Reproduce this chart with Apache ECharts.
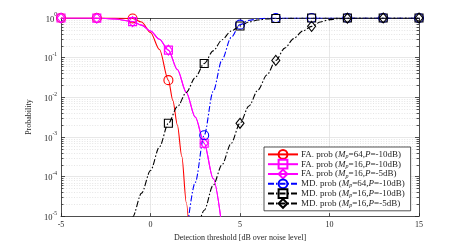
<!DOCTYPE html>
<html><head><meta charset="utf-8">
<script src="https://cdn.jsdelivr.net/npm/echarts@6/dist/echarts.min.js"></script>
<style>html,body{margin:0;padding:0;background:#fff}#c{width:463px;height:247px}</style>
</head><body><div id="c"></div>
<script>
// ---- data ----
const xTicks = [-5, 0, 5, 10, 15];
const yDecades = [1e-5, 1e-4, 1e-3, 1e-2, 1e-1, 1];

// FA. prob (Mp=64, P=-10dB)
const faX64 = [-5, -4, -3, -2, -1, -0.5, 0, 0.5, 1, 1.25, 1.5, 1.75, 2, 2.2];
const faP64 = [1, 1, 1, 0.995, 0.973, 0.79, 0.43, 0.16, 0.027, 0.0083, 0.002, 3.2e-4, 2.2e-5, 2e-6];
const faM64 = [-5, -3, -1, 1];

// FA. prob (Mp=16) (same curve for P=-10dB and P=-5dB)
const faX16 = [-5, -4, -3, -2, -1, -0.5, 0, 0.5, 1, 1.5, 2, 2.5, 3, 3.5, 4];
const faP16 = [1, 0.999, 0.993, 0.944, 0.81, 0.66, 0.47, 0.29, 0.155, 0.05, 0.0132, 0.00316, 6.9e-4, 8.9e-5, 5e-6];
const faM16 = [-5, -3, -1, 1, 3];

// MD. prob (Mp=64, P=-10dB)
const mdX64 = [2, 2.5, 3, 3.5, 4, 4.5, 5, 5.5, 6, 6.5, 7, 8, 9, 10, 11, 12, 13, 14, 15];
const mdP64 = [3.2e-6, 7.1e-5, 1.1e-3, 0.014, 0.089, 0.32, 0.68, 0.87, 0.955, 0.986, 0.998, 1, 1, 1, 1, 1, 1, 1, 1];
const mdM64 = [3, 5, 7, 9, 11, 13, 15];

// MD. prob (Mp=16, P=-10dB)
const mdX16a = [-1.25, -1, -0.5, 0, 0.5, 1, 1.5, 2, 2.5, 3, 3.5, 4, 4.5, 5, 5.5, 6, 6.5, 7, 8, 9, 10, 11, 12, 13, 14, 15];
const mdP16a = [5e-6, 9.5e-6, 3.8e-5, 1.41e-4, 5.6e-4, 2.2e-3, 5.75e-3, 0.0132, 0.0316, 0.0708, 0.148, 0.282, 0.468, 0.63, 0.794, 0.891, 0.946, 0.975, 0.995, 1, 1, 1, 1, 1, 1, 1];
const mdM16a = [1, 3, 5, 7, 9, 11, 13, 15];

// MD. prob (Mp=16, P=-5dB)
const mdX16b = [2.7, 3, 3.5, 4, 4.5, 5, 5.5, 6, 6.5, 7, 7.5, 8, 8.5, 9, 9.5, 10, 10.5, 11, 12, 13, 14, 15];
const mdP16b = [6.3e-6, 1.4e-5, 6e-5, 2e-4, 6.8e-4, 2.2e-3, 6e-3, 0.0151, 0.0363, 0.085, 0.174, 0.302, 0.468, 0.616, 0.794, 0.912, 0.966, 0.989, 0.999, 1, 1, 1];
const mdM16b = [5, 7, 9, 11, 13, 15];

const seriesNames = [
  'FA. prob (Mp=64,P=-10dB)', 'FA. prob (Mp=16,P=-10dB)', 'FA. prob (Mp=16,P=-5dB)',
  'MD. prob (Mp=64,P=-10dB)', 'MD. prob (Mp=16,P=-10dB)', 'MD. prob (Mp=16,P=-5dB)'
];
const legendRich = [
  ['FA', '64', '-10'], ['FA', '16', '-10'], ['FA', '16', '-5'],
  ['MD', '64', '-10'], ['MD', '16', '-10'], ['MD', '16', '-5']
];

// ---- chart ----
const TXT = '#262626';
const FONT = '"Liberation Serif", "DejaVu Serif", serif';

function build(xs, ps, marks) {
  return xs.map((x, i) => marks.indexOf(x) >= 0 ? [x, ps[i]] : { value: [x, ps[i]], symbol: 'none' });
}
function lineSeries(name, xs, ps, marks, color, symbol, size, dash) {
  return {
    name: name, type: 'line', xAxisIndex: 0, yAxisIndex: 0,
    data: build(xs, ps, marks),
    smooth: 0.3, smoothMonotone: 'x',
    symbol: symbol, symbolSize: size, showAllSymbol: true,
    lineStyle: { color: color, width: 1.1, type: dash },
    itemStyle: { color: 'rgba(255,255,255,0)', borderColor: color, borderWidth: 1.1 },
    emphasis: { disabled: true }, z: 3, clip: true
  };
}
const DASHDOT = [6, 2, 1.5, 2];

const minorVals = [];
for (let d = -5; d < 0; d++) for (let k = 2; k <= 9; k++) minorVals.push(k * Math.pow(10, d));

const decor = {
  type: 'custom', coordinateSystem: 'cartesian2d', xAxisIndex: 0, yAxisIndex: 0,
  data: [[0, 0.5]], silent: true, z: 1, clip: false,
  renderItem: function (params, api) {
    const cs = params.coordSys;
    const children = [];
    minorVals.forEach(v => {
      const y = Math.round(api.coord([0, v])[1]) + 0.5;
      children.push({ type: 'line', shape: { x1: cs.x, y1: y, x2: cs.x + cs.width, y2: y },
        style: { stroke: '#d4d4d4', lineWidth: 0.6, lineDash: [1, 1.6] } });
      children.push({ type: 'line', shape: { x1: cs.x, y1: y, x2: cs.x + 2.5, y2: y },
        style: { stroke: TXT, lineWidth: 0.8 } });
      children.push({ type: 'line', shape: { x1: cs.x + cs.width - 2.5, y1: y, x2: cs.x + cs.width, y2: y },
        style: { stroke: TXT, lineWidth: 0.8 } });
    });
    return { type: 'group', children: children };
  }
};

const chart = echarts.init(document.getElementById('c'), null, { renderer: 'canvas' });
chart.setOption({
  animation: false,
  backgroundColor: '#fff',
  textStyle: { fontFamily: FONT, color: TXT },
  grid: { left: 61, right: 44, top: 18, bottom: 28, containLabel: false },
  xAxis: [{
    type: 'value', min: -5, max: 15, interval: 5, position: 'bottom',
    name: 'Detection threshold [dB over noise level]', nameLocation: 'middle', nameGap: 16,
    nameTextStyle: { fontFamily: FONT, fontSize: 8, color: TXT },
    axisLine: { show: true, lineStyle: { color: TXT, width: 0.8 } },
    axisTick: { show: true, inside: true, length: 3, lineStyle: { color: TXT, width: 0.8 } },
    axisLabel: { fontFamily: FONT, fontSize: 8, color: TXT, margin: 5 },
    splitLine: { show: true, lineStyle: { color: '#e2e2e2', width: 0.8 } }
  }, {
    type: 'value', min: -5, max: 15, interval: 5, position: 'top',
    axisLine: { show: true, onZero: false, lineStyle: { color: TXT, width: 0.8 } },
    axisTick: { show: true, inside: true, length: 3, lineStyle: { color: TXT, width: 0.8 } },
    axisLabel: { show: false }, splitLine: { show: false }
  }],
  yAxis: [{
    type: 'log', logBase: 10, min: 1e-5, max: 1, position: 'left',
    name: 'Probability', nameLocation: 'middle', nameGap: 21, nameRotate: 90,
    nameTextStyle: { fontFamily: FONT, fontSize: 8, color: TXT },
    axisLine: { show: true, onZero: false, lineStyle: { color: TXT, width: 0.8 } },
    axisTick: { show: true, inside: true, length: 4, lineStyle: { color: TXT, width: 0.8 } },
    axisLabel: {
      margin: 4, color: TXT,
      formatter: function (v) { return '{b|10}{s|' + Math.round(Math.log10(v)) + '}'; },
      rich: {
        b: { fontFamily: FONT, fontSize: 8.5, color: TXT, lineHeight: 12, verticalAlign: 'bottom' },
        s: { fontFamily: FONT, fontSize: 5.5, color: TXT, lineHeight: 6, verticalAlign: 'top' }
      }
    },
    splitLine: { show: true, lineStyle: { color: '#e2e2e2', width: 0.8 } }
  }, {
    type: 'log', logBase: 10, min: 1e-5, max: 1, position: 'right',
    axisLine: { show: true, onZero: false, lineStyle: { color: TXT, width: 0.8 } },
    axisTick: { show: true, inside: true, length: 4, lineStyle: { color: TXT, width: 0.8 } },
    axisLabel: { show: false }, splitLine: { show: false }
  }],
  legend: {
    orient: 'vertical', left: 264, top: 147,
    padding: [2, 6, 2, 3], itemGap: -1, itemWidth: 30, itemHeight: 11,
    backgroundColor: '#fff', borderColor: TXT, borderWidth: 0.8, borderRadius: 0,
    data: seriesNames,
    formatter: function (name) {
      const r = legendRich[seriesNames.indexOf(name)];
      return '{n|' + r[0] + '. prob (}{i|M}{sub|p}{n|=' + r[1] + ',}{i|P}{n|=' + r[2] + 'dB)}';
    },
    textStyle: {
      fontFamily: FONT, fontSize: 9, color: TXT, padding: [0, 0, 0, -2],
      rich: {
        n: { fontFamily: FONT, fontSize: 9, color: TXT, lineHeight: 10 },
        i: { fontFamily: FONT, fontSize: 9, color: TXT, fontStyle: 'italic', lineHeight: 10 },
        sub: { fontFamily: FONT, fontSize: 6, color: TXT, fontStyle: 'italic', lineHeight: 6, verticalAlign: 'bottom' }
      }
    }
  },
  series: [
    decor,
    lineSeries(seriesNames[0], faX64, faP64, faM64, '#ff0000', 'circle', 9, 'solid'),
    lineSeries(seriesNames[1], faX16, faP16, faM16, '#ff00ff', 'rect', 8, 'solid'),
    lineSeries(seriesNames[2], faX16, faP16, faM16, '#ff00ff', 'diamond', [8, 10], 'solid'),
    lineSeries(seriesNames[3], mdX64, mdP64, mdM64, '#0000ff', 'circle', 9, DASHDOT),
    lineSeries(seriesNames[4], mdX16a, mdP16a, mdM16a, '#000000', 'rect', 8, DASHDOT),
    lineSeries(seriesNames[5], mdX16b, mdP16b, mdM16b, '#000000', 'diamond', [8, 10], DASHDOT)
  ]
});
</script>
</body></html>
